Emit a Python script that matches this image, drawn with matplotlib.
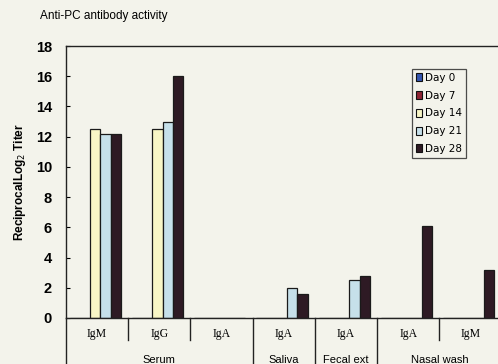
import matplotlib
matplotlib.use("Agg")
import matplotlib.pyplot as plt
import matplotlib.transforms as mtransforms
from matplotlib.patches import Patch
import numpy as np

# data
sub_labels = ["IgM", "IgG", "IgA", "IgA", "IgA", "IgA", "IgM"]
groups = [("Serum", 0, 3), ("Saliva", 3, 4), ("Fecal ext", 4, 5), ("Nasal wash", 5, 7)]
days = ["Day 0", "Day 7", "Day 14", "Day 21", "Day 28"]
day0 = [0, 0, 0, 0, 0, 0, 0]
day7 = [0, 0, 0, 0, 0, 0, 0]
day14 = [12.5, 12.5, 0, 0, 0, 0, 0]
day21 = [12.2, 13.0, 0, 2.0, 2.5, 0, 0]
day28 = [12.2, 16.0, 0, 1.6, 2.75, 6.1, 3.2]
series = [day0, day7, day14, day21, day28]
colors = ["#3656b0", "#8e2434", "#f8f6c6", "#c6e0ea", "#2e1a24"]

bg = "#f3f3eb"
fig = plt.figure(figsize=(4.98, 3.64), dpi=100, facecolor=bg)
ax = fig.add_axes([0.1325, 0.1264, 0.875, 0.7472], facecolor=bg)

x = np.arange(len(sub_labels)) + 0.5
w = 0.165
for i, vals in enumerate(series):
    ax.bar(x + (i - 2) * w - 0.03, vals, width=w, color=colors[i],
           edgecolor="#1a1a1a", linewidth=0.9)

ax.set_xlim(0, 7)
ax.set_ylim(0, 18)
ax.set_yticks(range(0, 19, 2))
ax.set_yticklabels([str(v) for v in range(0, 19, 2)], fontsize=10.5,
                   fontweight="bold", family="Liberation Sans")
ax.tick_params(axis="y", direction="in", length=3, width=0.8, pad=10)
ax.set_xticks([])
for s in ["left", "bottom", "top"]:
    ax.spines[s].set_linewidth(1.0)
    ax.spines[s].set_color("#222222")
ax.spines["right"].set_visible(False)

trans = mtransforms.blended_transform_factory(ax.transData, ax.transAxes)
for i, lab in enumerate(sub_labels):
    ax.text(x[i], -0.06, lab, transform=trans, ha="center", va="center",
            fontsize=8.5, family="Liberation Serif")
for name, a, b in groups:
    ax.text((a + b) / 2, -0.135, name, transform=trans, ha="center", va="top",
            fontsize=8, family="Liberation Sans")

major = [g[1] for g in groups] + [7]
for k in range(0, 8):
    low = -0.2 if k in major else -0.08
    ax.plot([k, k], [0, low], transform=trans, color="#222222",
            lw=1.0, clip_on=False)

ax.set_ylabel(r"ReciprocalLog$_2$ Titer", fontsize=8.5, fontweight="bold",
              family="Liberation Sans", labelpad=6)

fig.text(0.08, 0.955, "Anti-PC antibody activity", fontsize=8.5,
         family="Liberation Sans", va="center")

handles = [Patch(facecolor=c, edgecolor="#111111", linewidth=0.8) for c in colors]
leg = ax.legend(handles, days, loc="upper left", bbox_to_anchor=(0.795, 0.915),
                fontsize=7.5, frameon=True, fancybox=False, handlelength=0.6,
                handleheight=0.8, handletextpad=0.3, labelspacing=0.75,
                borderpad=0.35, borderaxespad=0)
leg.get_frame().set_edgecolor("#222222")
leg.get_frame().set_facecolor(bg)
leg.get_frame().set_linewidth(0.9)

fig.savefig("out.png", dpi=100, facecolor=bg)
